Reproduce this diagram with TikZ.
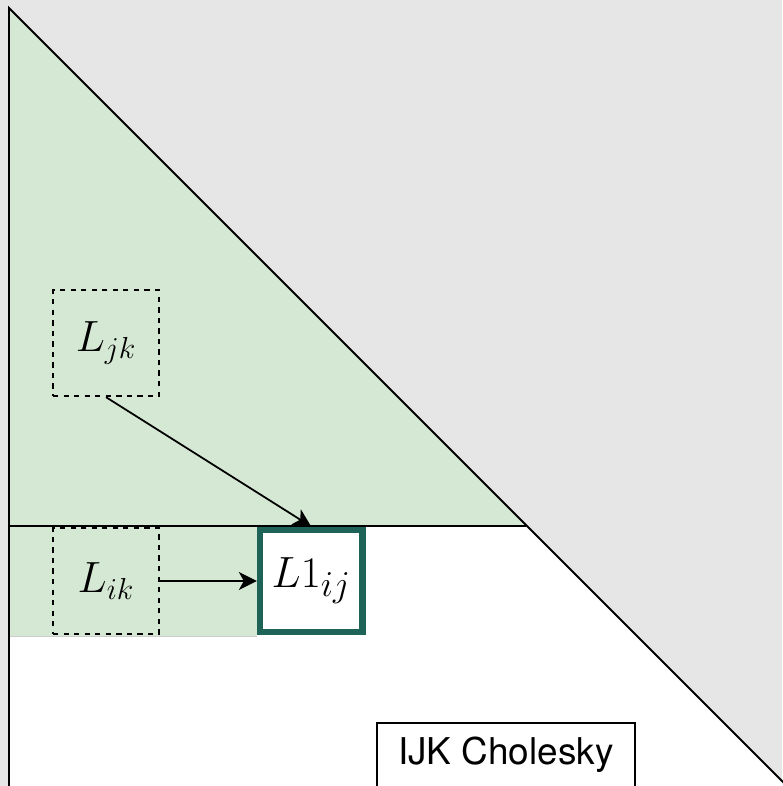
\documentclass[tikz,border=0pt]{standalone}
\usepackage{fontspec}
\newfontfamily\captionfont{TeX Gyre Heros}
\usetikzlibrary{arrows.meta,positioning}

\definecolor{doneGreen}{RGB}{213,232,212}
\definecolor{upperGray}{RGB}{230,230,230}
\definecolor{pivotTeal}{RGB}{30,99,87}

\begin{document}
\begin{tikzpicture}[
  x=0.02cm,y=-0.02cm,
  node distance=1.94cm,
  operand/.style={draw,dashed,line width=1pt,minimum size=2.12cm,inner sep=0pt,
    font=\fontsize{23}{23}\selectfont},
  target/.style={draw=pivotTeal,fill=white,line width=3.6pt,minimum size=2.05cm,
    inner sep=0pt,font=\fontsize{30.5}{30.5}\selectfont},
  caption/.style={draw,line width=1pt,minimum width=5.16cm,minimum height=1.28cm,
    anchor=north west,font=\captionfont\fontsize{21}{21}\selectfont},
  >={Stealth[length=3.6mm,width=3.6mm,inset=1mm]}
]
  \useasboundingbox (0,0) rectangle (782,786);
  \fill[upperGray] (0,0) rectangle (782,786);

  % lower triangle, with the finished part in green
  \fill[white] (9,8) -- (9,786) -- (787,786) -- cycle;
  \fill[doneGreen] (9,8) -- (526,526) -- (9,526) -- cycle;
  \fill[doneGreen] (9,526) rectangle (257,636);
  \draw[black!20] (9,636) -- (257,636);
  \draw[line width=1.1pt] (9,786) -- (9,8) -- (787,786);
  \draw[line width=1.1pt] (9,526) -- (526,526);

  \node[operand] (Lik) at (106,581) {$L_{ik}$};
  \node[operand,above=2.6cm of Lik] (Ljk) {$L_{jk}$};
  \node[target,right=of Lik] (Lij) {$L1_{ij}$};

  \draw[->,line width=1pt] (Ljk.south) -- (Lij.north);
  \draw[->,line width=1pt] (Lik) -- (Lij);

  \node[caption] (title) at (376,722) {IJK Cholesky};
\end{tikzpicture}
\end{document}
